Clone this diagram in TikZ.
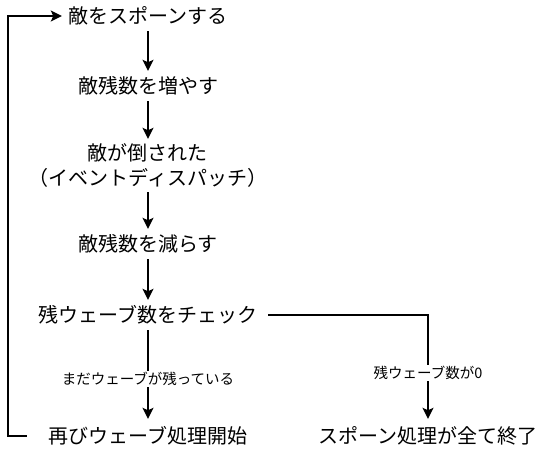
\documentclass[tikz,border=0pt]{standalone}
\usepackage{fontspec}
\setmainfont{Noto Sans CJK JP}
\usetikzlibrary{arrows.meta,positioning}

\begin{document}
\begin{tikzpicture}[x=1pt, y=-1pt,
    every node/.style={font=\fontsize{20}{25}\selectfont},
    step box/.style={inner sep=0pt, minimum height=30pt, align=center},
    flow/.style={-{Stealth[length=11pt,width=11pt,inset=2.5pt]}, line width=1.8pt},
    cond/.style={fill=white, inner sep=1pt, font=\fontsize{14.5}{16}\selectfont}]
    \useasboundingbox (0,0) rectangle (549,451);
    \node[step box, minimum width=172pt] (spawn) at (148,16) {敵をスポーンする};
    \node[step box] (incr) at (148,86) {敵残数を増やす};
    \node[step box, minimum height=53pt] (killed) at (148,165.5) {敵が倒された\\（イベントディスパッチ）};
    \node[step box] (decr) at (148,244) {敵残数を減らす};
    \node[step box, minimum width=240pt] (check) at (148,315) {残ウェーブ数をチェック};
    \node[step box, minimum height=34pt, minimum width=242pt] (restart) at (148,436) {再びウェーブ処理開始};
    \node[step box, minimum height=34pt] (done) at (428,436) {スポーン処理が全て終了};
    \draw[flow] (spawn) -- (incr);
    \draw[flow] (incr) -- (killed);
    \draw[flow] (killed) -- (decr);
    \draw[flow] (decr) -- (check);
    \draw[flow] (check) -- node[cond, pos=0.55] {まだウェーブが残っている} (restart);
    \draw[flow] (check.east) -| node[cond, pos=0.78] {残ウェーブ数が0} (done.north);
    % loop back to the top
    \draw[flow] (restart.west) -- ++(-19,0) |- (spawn.west);
\end{tikzpicture}
\end{document}
